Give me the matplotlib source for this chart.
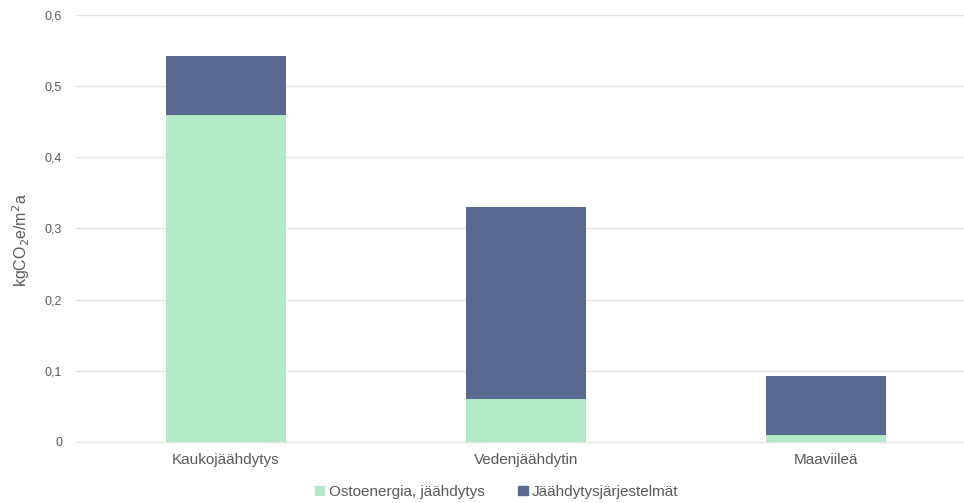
import matplotlib
matplotlib.use("Agg")
import matplotlib.pyplot as plt
from matplotlib.patches import Patch

categories = ["Kaukojäähdytys", "Vedenjäähdytin", "Maaviileä"]
ostoenergia = [0.46, 0.06, 0.01]
jarjestelmat = [0.083, 0.27, 0.083]
series_names = ["Ostoenergia, jäähdytys", "Jäähdytysjärjestelmät"]
yticks = [0, 0.1, 0.2, 0.3, 0.4, 0.5, 0.6]
ytick_labels = ["0", "0,1", "0,2", "0,3", "0,4", "0,5", "0,6"]

plt.rcParams['font.family'] = ['Liberation Sans', 'DejaVu Sans']
green = "#b3ebc9"
blue = "#5a6990"
txt = "#595959"

fig = plt.figure(figsize=(9.64, 5.03), dpi=100)
ax = fig.add_axes([76/964, 61/503, (964-76)/964, 427/503])
x = list(range(len(categories)))
ax.bar(x, ostoenergia, width=0.4, color=green, zorder=3)
ax.bar(x, jarjestelmat, width=0.4, bottom=ostoenergia, color=blue, zorder=3)
ax.set_xlim(-0.5, 2.46)
ax.set_ylim(0, 0.6)
ax.set_yticks(yticks)
ax.set_yticklabels(ytick_labels, color=txt, fontsize=9)
ax.set_xticks(x)
ax.set_xticklabels(categories, color=txt, fontsize=11)
ax.tick_params(axis='both', length=0)
ax.tick_params(axis='y', pad=10)
ax.tick_params(axis='x', pad=8)
ax.yaxis.grid(True, color="#e3e3e3", linewidth=1.0, zorder=0)
for gl in ax.get_ygridlines():
    gl.set_clip_on(False)
for s in ax.spines.values():
    s.set_visible(False)
ax.set_ylabel("kgCO$_2$e/m$^2$a", color=txt, fontsize=11.5)
ax.yaxis.set_label_coords(-0.05, 0.473)

handles = [Patch(color=green), Patch(color=blue)]
fig.legend(handles, series_names, loc='center', bbox_to_anchor=(497/964, 1-492/503),
           ncol=2, frameon=False, fontsize=11, labelcolor=txt,
           handlelength=0.6, handleheight=0.6, handletextpad=0.3, columnspacing=2.2)

fig.savefig("out.png", dpi=100)
